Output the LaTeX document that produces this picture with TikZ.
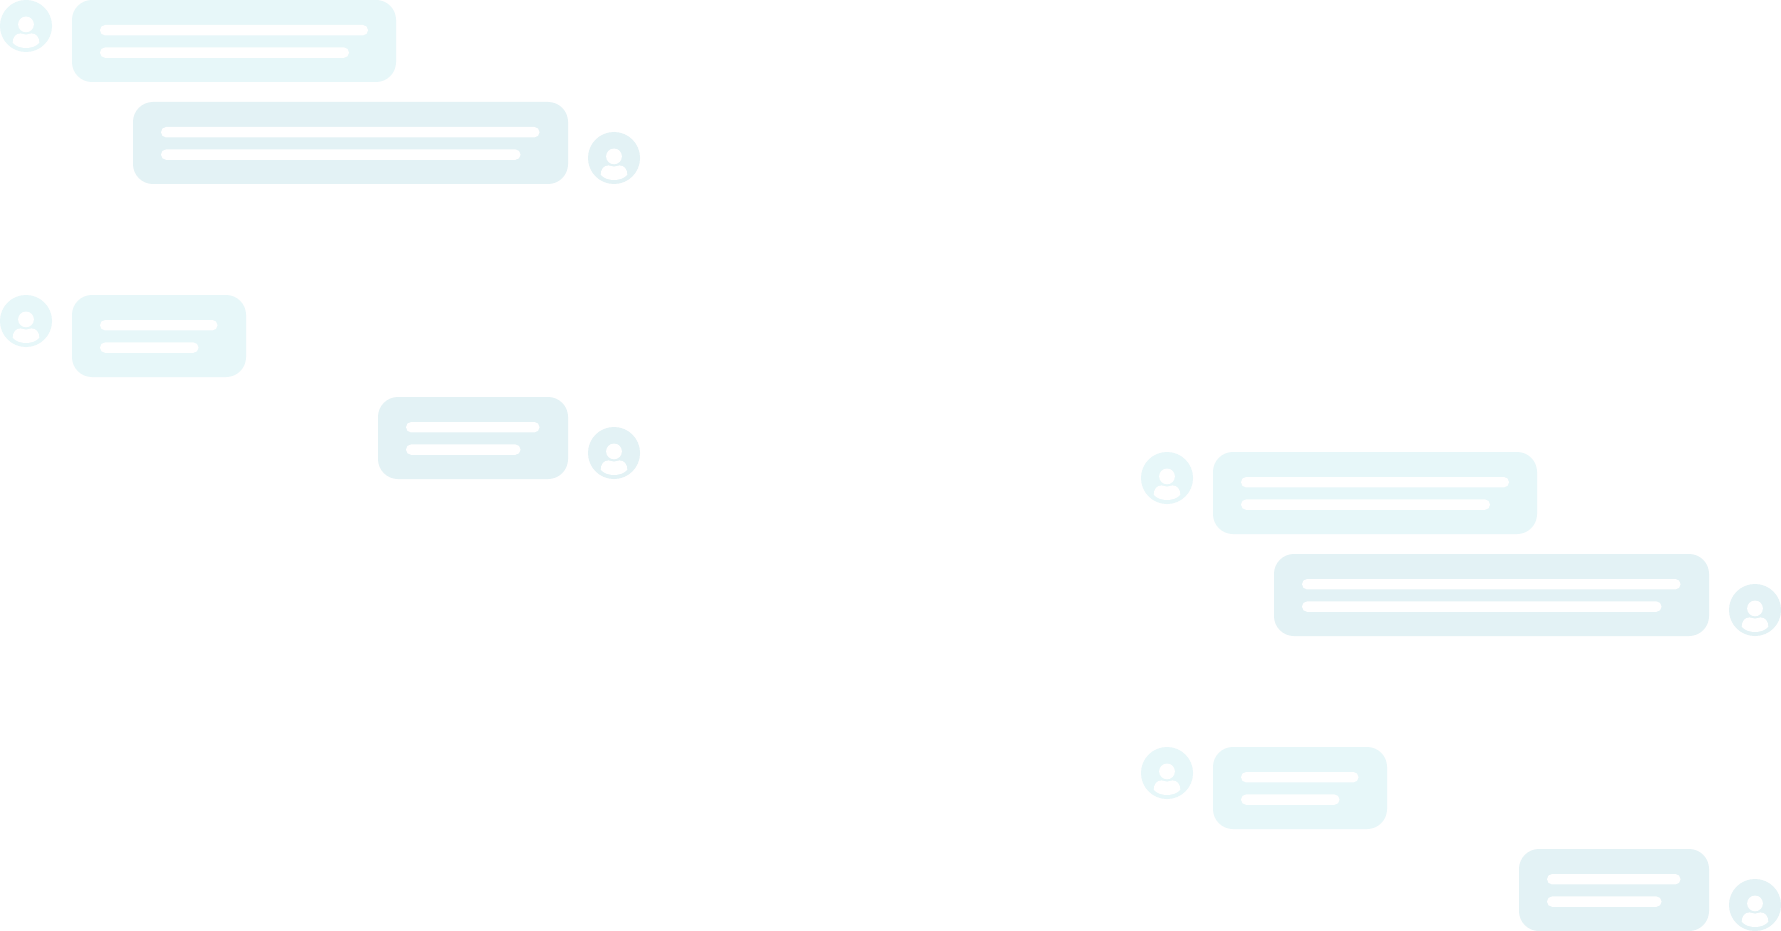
\documentclass[tikz,border=0pt]{standalone}
\definecolor{tintL}{RGB}{231,247,249}
\definecolor{tintD}{RGB}{227,242,245}
\tikzset{
  bubblebox/.style={rounded corners=20pt},
  pillbar/.style={fill=white,rounded corners=5.1pt},
  avatarface/.pic={
    \fill[pic actions] (26,26) circle (26);
    \fill[white] (26,24.4) circle (7.9);
    \fill[white] (12.7,42.8) .. controls (12.7,37) and (16,33.4) .. (20.5,33.4)
       .. controls (22.5,33.4) and (24,34.6) .. (26,34.6)
       .. controls (28,34.6) and (29.5,33.4) .. (31.5,33.4)
       .. controls (36,33.4) and (39.3,37) .. (39.3,42.8)
       .. controls (36,46.4) and (31,48) .. (26,48)
       .. controls (21,48) and (16,46.4) .. (12.7,42.8) -- cycle;
  }
}
% #1 left, #2 top, #3 right, #4 first bar end, #5 second bar end, #6 colour
\newcommand{\chatbubble}[6]{
  \fill[#6,bubblebox] (#1,#2) rectangle (#3,#2+82);
  \fill[pillbar] (#1+28,#2+25) rectangle (#4,#2+35.4);
  \fill[pillbar] (#1+28,#2+47.4) rectangle (#5,#2+57.8);
}
\begin{document}
\begin{tikzpicture}[x=1pt,y=-1pt]
\useasboundingbox (0,0) rectangle (1781,931);
\fill[white] (0,0) rectangle (1781,931);
% left column
\pic[tintL] at (0,0) {avatarface};
\chatbubble{72}{0}{396}{368}{349}{tintL}
\chatbubble{133}{102}{568}{539.5}{520.5}{tintD}
\pic[tintD] at (588,132) {avatarface};
\pic[tintL] at (0,295) {avatarface};
\chatbubble{72}{295}{246}{217.5}{198.5}{tintL}
\chatbubble{378}{397}{568}{539.5}{520.5}{tintD}
\pic[tintD] at (588,427) {avatarface};
% right column
\pic[tintL] at (1141,452) {avatarface};
\chatbubble{1213}{452}{1537}{1509}{1490}{tintL}
\chatbubble{1274}{554}{1709}{1680.5}{1661.5}{tintD}
\pic[tintD] at (1729,584) {avatarface};
\pic[tintL] at (1141,747) {avatarface};
\chatbubble{1213}{747}{1387}{1358.5}{1339.5}{tintL}
\chatbubble{1519}{849}{1709}{1680.5}{1661.5}{tintD}
\pic[tintD] at (1729,879) {avatarface};
\end{tikzpicture}
\end{document}
